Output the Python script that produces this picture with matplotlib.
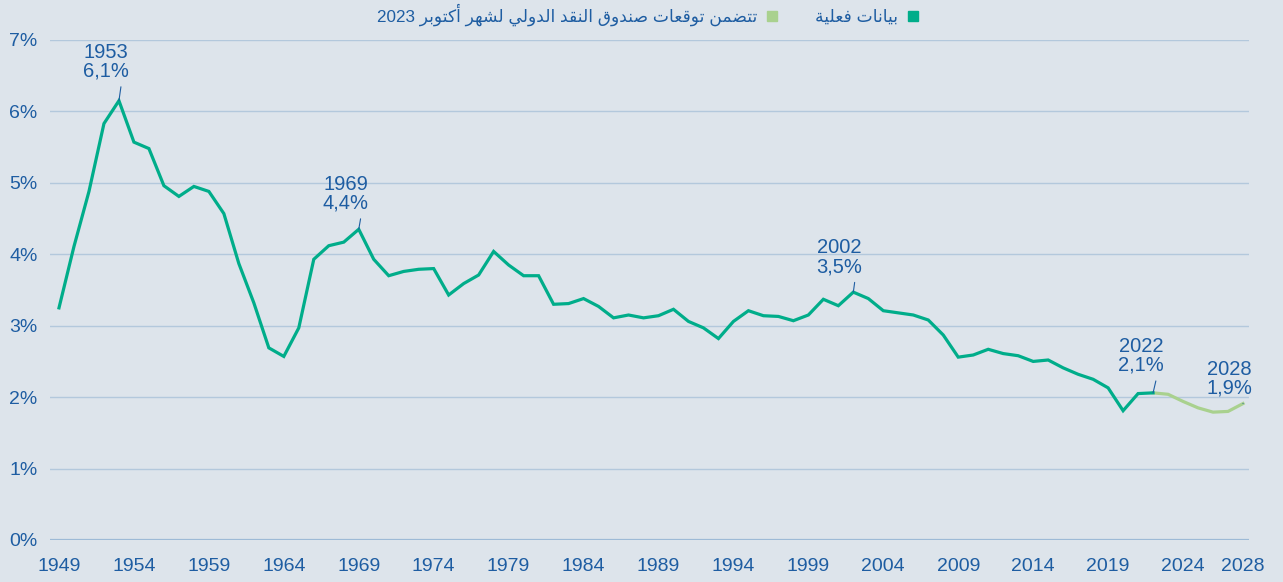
import numpy as np
import matplotlib
matplotlib.use('Agg')
import matplotlib.pyplot as plt
from matplotlib.lines import Line2D

# actual data 1949-2022, IMF forecast 2023-2028 (in %)
years_actual = list(range(1949, 2023))
values_actual = [3.25, 4.11, 4.88, 5.83, 6.15, 5.57, 5.48, 4.96, 4.81, 4.95,
                 4.88, 4.57, 3.87, 3.32, 2.69, 2.57, 2.97, 3.93, 4.12, 4.17,
                 4.35, 3.93, 3.70, 3.76, 3.79, 3.80, 3.43, 3.59, 3.71, 4.04,
                 3.85, 3.70, 3.70, 3.30, 3.31, 3.38, 3.27, 3.11, 3.15, 3.11,
                 3.14, 3.23, 3.06, 2.97, 2.82, 3.06, 3.21, 3.14, 3.13, 3.07,
                 3.15, 3.37, 3.28, 3.47, 3.38, 3.21, 3.18, 3.15, 3.08, 2.87,
                 2.56, 2.59, 2.67, 2.61, 2.58, 2.50, 2.52, 2.41, 2.32, 2.25,
                 2.13, 1.81, 2.05, 2.06]
years_forecast = [2022, 2023, 2024, 2025, 2026, 2027, 2028]
values_forecast = [2.06, 2.04, 1.94, 1.85, 1.79, 1.80, 1.91]

ann_years = [1953, 1969, 2002, 2022, 2028]
ann_labels = ['6,1%', '4,4%', '3,5%', '2,1%', '1,9%']

xtick_years = [1949, 1954, 1959, 1964, 1969, 1974, 1979, 1984, 1989, 1994,
               1999, 2004, 2009, 2014, 2019, 2024, 2028]
ytick_vals = [0, 1, 2, 3, 4, 5, 6, 7]

legend_actual = 'بيانات فعلية'
legend_forecast = 'تتضمن توقعات صندوق النقد الدولي لشهر أكتوبر 2023'

# simple arabic shaping (presentation forms) since matplotlib has no bidi
FORMS = {
    'ا': ('\ufe8d', '\ufe8e', None, None),
    'أ': ('\ufe83', '\ufe84', None, None),
    'ب': ('\ufe8f', '\ufe90', '\ufe91', '\ufe92'),
    'ة': ('\ufe93', '\ufe94', None, None),
    'ت': ('\ufe95', '\ufe96', '\ufe97', '\ufe98'),
    'د': ('\ufea9', '\ufeaa', None, None),
    'ر': ('\ufead', '\ufeae', None, None),
    'ش': ('\ufeb5', '\ufeb6', '\ufeb7', '\ufeb8'),
    'ص': ('\ufeb9', '\ufeba', '\ufebb', '\ufebc'),
    'ض': ('\ufebd', '\ufebe', '\ufebf', '\ufec0'),
    'ع': ('\ufec9', '\ufeca', '\ufecb', '\ufecc'),
    'ف': ('\ufed1', '\ufed2', '\ufed3', '\ufed4'),
    'ق': ('\ufed5', '\ufed6', '\ufed7', '\ufed8'),
    'ك': ('\ufed9', '\ufeda', '\ufedb', '\ufedc'),
    'ل': ('\ufedd', '\ufede', '\ufedf', '\ufee0'),
    'م': ('\ufee1', '\ufee2', '\ufee3', '\ufee4'),
    'ن': ('\ufee5', '\ufee6', '\ufee7', '\ufee8'),
    'ه': ('\ufee9', '\ufeea', '\ufeeb', '\ufeec'),
    'و': ('\ufeed', '\ufeee', None, None),
    'ي': ('\ufef1', '\ufef2', '\ufef3', '\ufef4'),
}


def shape_ar(text):
    words = []
    for w in text.split(' '):
        if not any(c in FORMS for c in w):
            words.append(w)
            continue
        out = []
        for i, c in enumerate(w):
            prev = w[i - 1] if i > 0 else None
            nxt = w[i + 1] if i < len(w) - 1 else None
            join_prev = prev in FORMS and FORMS[prev][2] is not None
            join_next = nxt in FORMS and FORMS[c][2] is not None
            iso, fin, ini, med = FORMS[c]
            if join_prev and join_next:
                out.append(med)
            elif join_prev:
                out.append(fin)
            elif join_next:
                out.append(ini)
            else:
                out.append(iso)
        words.append(''.join(reversed(out)))
    return ' '.join(reversed(words))


bg = '#dde4eb'
text_blue = '#1e5da2'
c_actual = '#00ad8a'
c_forecast = '#a9d18e'
grid_c = '#b3c8dc'

plt.rcParams['font.family'] = ['Liberation Sans', 'DejaVu Sans']

fig = plt.figure(figsize=(12.83, 5.82), dpi=100, facecolor=bg)
ax = fig.add_axes([50 / 1283, 42 / 582, 1199 / 1283, 500 / 582])
ax.set_facecolor(bg)

ax.plot(years_forecast, values_forecast, color=c_forecast, lw=2.3,
        solid_joinstyle='round', zorder=3)
ax.plot(years_actual, values_actual, color=c_actual, lw=2.3,
        solid_joinstyle='miter', zorder=4)

ax.set_xlim(1948.4, 2028.4)
ax.set_ylim(0, 7)
ax.set_yticks(ytick_vals)
ax.set_yticklabels([f'{v}%' for v in ytick_vals])
ax.set_xticks(xtick_years)
ax.set_xticklabels([str(y) for y in xtick_years])
ax.tick_params(length=0, labelsize=14, colors=text_blue)
ax.tick_params(axis='x', pad=13)
ax.tick_params(axis='y', pad=9)
ax.yaxis.grid(True, color=grid_c, lw=1.0)
ax.xaxis.grid(False)
for s in ax.spines.values():
    s.set_visible(False)
ax.axhline(0, color='#9dbad6', lw=1.6, zorder=2)

all_years = years_actual + years_forecast[1:]
all_vals = values_actual + values_forecast[1:]
offsets = [(-9.5, 14.5), (-9.5, 12.0), (-10.0, 11.5), (-8.5, 13.0), (-9.5, 4.3)]
for yr, lab, (dx, dy) in zip(ann_years, ann_labels, offsets):
    v = all_vals[all_years.index(yr)]
    ax.annotate(f'{yr}\n{lab}', xy=(yr, v), xytext=(dx, dy),
                textcoords='offset points', ha='center', va='bottom',
                fontsize=14.5, color=text_blue, linespacing=1.0,
                arrowprops=dict(arrowstyle='-', color=text_blue, lw=0.8,
                                shrinkA=2.5, shrinkB=0, relpos=(0.85, 0)),
                zorder=5)

handles = [Line2D([], [], marker='s', ls='none', ms=6.5, color=c_forecast),
           Line2D([], [], marker='s', ls='none', ms=6.5, color=c_actual)]
fig.legend(handles, [shape_ar(legend_forecast), shape_ar(legend_actual)],
           ncol=2, markerfirst=False, loc='center',
           bbox_to_anchor=(0.505, 0.974), frameon=False,
           prop={'family': ['Liberation Sans', 'DejaVu Sans'], 'size': 12.3},
           labelcolor=text_blue, handlelength=0.7, handletextpad=0.5,
           columnspacing=2.2)

plt.savefig('out.png', dpi=100, facecolor=bg)
